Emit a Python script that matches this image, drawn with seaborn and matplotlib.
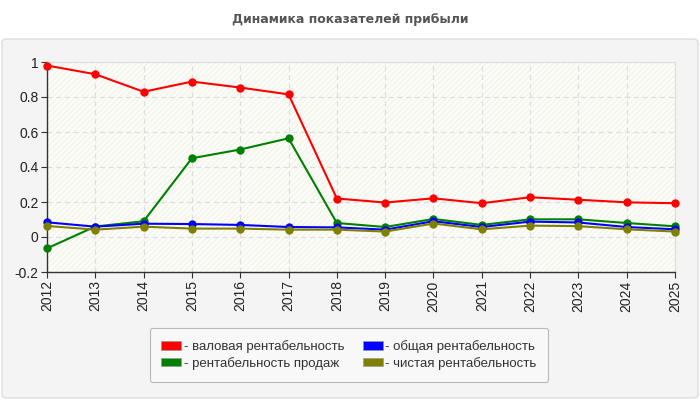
import matplotlib
matplotlib.use("Agg")
import matplotlib.pyplot as plt
import seaborn as sns
import pandas as pd
from matplotlib.patches import FancyBboxPatch, Patch

years = [2012, 2013, 2014, 2015, 2016, 2017, 2018, 2019, 2020, 2021, 2022, 2023, 2024, 2025]
series_names = ["валовая рентабельность", "рентабельность продаж",
                "общая рентабельность", "чистая рентабельность"]
gross = [0.98, 0.93, 0.83, 0.888, 0.854, 0.815, 0.22, 0.197, 0.221, 0.193, 0.227, 0.213, 0.198, 0.193]
sales = [-0.065, 0.06, 0.09, 0.45, 0.50, 0.564, 0.08, 0.057, 0.103, 0.069, 0.101, 0.101, 0.08, 0.061]
total = [0.084, 0.059, 0.076, 0.074, 0.069, 0.057, 0.055, 0.042, 0.09, 0.057, 0.088, 0.083, 0.057, 0.044]
net = [0.063, 0.042, 0.059, 0.048, 0.048, 0.042, 0.042, 0.031, 0.077, 0.044, 0.065, 0.062, 0.044, 0.031]
colors = ["#ff0000", "#008000", "#0000ff", "#808000"]
title = "Динамика показателей прибыли"

rows = []
for name, vals in zip(series_names, [gross, sales, total, net]):
    for y, v in zip(years, vals):
        rows.append({"year": y, "value": v, "series": name})
df = pd.DataFrame(rows)

sns.set_style("white")
plt.rcParams["font.family"] = ["Liberation Sans", "DejaVu Sans"]

fig = plt.figure(figsize=(7, 4), dpi=100)
fig.patch.set_facecolor("white")
panel = FancyBboxPatch((2 / 700, 2 / 400), 696 / 700, 359 / 400,
                       boxstyle="round,pad=0,rounding_size=0.008",
                       transform=fig.transFigure, facecolor="#f4f4f4",
                       edgecolor="#dddddd", linewidth=1, zorder=-10)
fig.patches.append(panel)
fig.text(0.5, 1 - 20 / 400, title, ha="center", va="center",
         fontsize=9, fontweight="bold", color="#555555",
         family=["DejaVu Sans"])

ax = fig.add_axes([47 / 700, 1 - 272 / 400, 628 / 700, 210 / 400])
ax.set_zorder(1)
ax.set_facecolor("#fdfdf8")
ax.add_patch(plt.Rectangle((0, 0), 1, 1, transform=ax.transAxes, fill=False,
                           hatch="//////", edgecolor="#f4f4ef", linewidth=0, zorder=0))

palette = dict(zip(series_names, colors))
for name in series_names:
    sub = df[df["series"] == name]
    sns.lineplot(data=sub, x="year", y="value", color=palette[name], ax=ax,
                 marker="o", markersize=6, markeredgewidth=0, linewidth=1.5,
                 legend=False, zorder=3, clip_on=False)

ax.set_xlim(2012, 2025)
ax.set_ylim(-0.2, 1.0)
ax.set_xticks(years)
ax.set_xticklabels([str(y) for y in years], rotation=90, fontsize=10, color="#222222")
ax.set_yticks([-0.2, 0, 0.2, 0.4, 0.6, 0.8, 1.0])
ax.set_yticklabels(["-0.2", "0", "0.2", "0.4", "0.6", "0.8", "1"], fontsize=10, color="#222222")
ax.set_xlabel("")
ax.set_ylabel("")
ax.grid(True, color="#dddddd", linestyle=(0, (4, 3)), linewidth=0.9)
ax.set_axisbelow(True)
for s in ["top", "right"]:
    ax.spines[s].set_color("#dddddd")
for s in ["left", "bottom"]:
    ax.spines[s].set_color("#333333")
    ax.spines[s].set_linewidth(1)
ax.tick_params(axis="both", length=4, color="#333333", pad=2, direction="out")
ax.tick_params(left=True, bottom=True)

handles = [Patch(facecolor=c, edgecolor="#999999", linewidth=0.5) for c in colors]
labels = ["- " + n for n in series_names]
leg = fig.legend(handles, labels, loc="center", bbox_to_anchor=(349 / 700, 1 - 355 / 400),
                 ncol=2, frameon=True, fontsize=9.5, handlelength=1.5, handleheight=0.6,
                 handletextpad=0.2, columnspacing=1.4, labelspacing=0.3,
                 borderpad=0.9, fancybox=True)
leg.get_frame().set_facecolor("#fafafa")
leg.get_frame().set_edgecolor("#aaaaaa")
leg.get_frame().set_linewidth(0.8)
for t in leg.get_texts():
    t.set_color("#333333")

fig.savefig("out.png", dpi=100)
